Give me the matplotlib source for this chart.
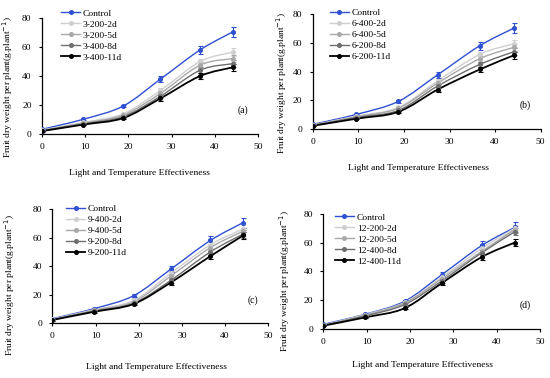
import numpy as np
import matplotlib
matplotlib.use('Agg')
import matplotlib.pyplot as plt
from matplotlib.path import Path
from matplotlib.patches import PathPatch
from matplotlib.lines import Line2D

plt.rcParams['font.family'] = 'Liberation Serif'
plt.rcParams['font.size'] = 6.5

# light and temperature effectiveness at each sampling
lte = [0, 9.6, 18.8, 27.4, 36.6, 44.2]

control = [3.2, 10.2, 19.3, 37.8, 58.0, 70.5]
control_err = [0.5, 0.6, 1.0, 2.0, 3.0, 3.5]

# panel (a)
labels_a = ['3-200-2d', '3-200-5d', '3-400-8d', '3-400-11d']
series_a = [[2.8, 8.0, 14.0, 30.0, 50.0, 56.5],
            [2.5, 7.5, 13.0, 28.0, 47.5, 52.0],
            [2.3, 7.0, 12.0, 26.0, 44.0, 48.5],
            [2.0, 6.5, 11.0, 24.5, 40.0, 46.0]]

# panel (b)
labels_b = ['6-400-2d', '6-400-5d', '6-200-8d', '6-200-11d']
series_b = [[2.8, 9.0, 15.0, 33.5, 52.0, 59.5],
            [2.6, 8.5, 14.5, 32.0, 49.0, 57.0],
            [2.4, 8.0, 13.0, 30.0, 45.0, 54.0],
            [2.2, 7.2, 12.0, 27.5, 41.5, 51.5]]

# panel (c)
labels_c = ['9-400-2d', '9-400-5d', '9-200-8d', '9-200-11d']
series_c = [[2.8, 9.5, 16.0, 35.0, 55.0, 66.0],
            [2.6, 9.0, 15.0, 33.0, 53.0, 64.5],
            [2.5, 8.5, 14.0, 30.0, 50.0, 62.5],
            [2.3, 8.0, 13.5, 28.5, 47.0, 61.5]]

# panel (d)
labels_d = ['12-200-2d', '12-200-5d', '12-400-8d', '12-400-11d']
series_d = [[2.8, 10.0, 18.5, 36.0, 56.0, 70.0],
            [2.6, 9.5, 18.0, 35.0, 54.0, 69.0],
            [2.5, 9.0, 17.0, 33.5, 53.0, 67.5],
            [2.3, 8.0, 14.5, 32.0, 50.0, 60.0]]

treat_err = [0.4, 0.5, 0.8, 1.5, 2.0, 2.5]

blue = '#2f50d2'
greys = ['#cfcfcf', '#a8a8a8', '#6e6e6e', '#000000']

W, H = 550, 378


def smooth_path(x, y):
    # Catmull-Rom style bezier through the points (like Excel smoothed lines)
    x = np.asarray(x, float)
    y = np.asarray(y, float)
    n = len(x)
    verts = [(x[0], y[0])]
    codes = [Path.MOVETO]
    for i in range(n - 1):
        x0, y0 = (x[i - 1], y[i - 1]) if i > 0 else (x[i], y[i])
        x3, y3 = (x[i + 2], y[i + 2]) if i + 2 < n else (x[i + 1], y[i + 1])
        c1 = (x[i] + (x[i + 1] - x0) / 6, y[i] + (y[i + 1] - y0) / 6)
        c2 = (x[i + 1] - (x3 - x[i]) / 6, y[i + 1] - (y3 - y[i]) / 6)
        verts += [c1, c2, (x[i + 1], y[i + 1])]
        codes += [Path.CURVE4] * 3
    return Path(verts, codes)


def draw(ax, x, y, err, color, lw):
    ax.add_patch(PathPatch(smooth_path(x, y), fill=False, edgecolor=color, lw=lw, zorder=3))
    ax.errorbar(x, y, yerr=err, fmt='o', ms=2.6, color=color, ecolor=color,
                elinewidth=0.8, capsize=1.8, capthick=0.8, zorder=4)


fig = plt.figure(figsize=(W / 100, H / 100), dpi=100)

# axes box (left, right, y of 0, y of 80) in pixels, legend corner, xlabel centre, ylabel centre
panels = [
    ((42, 258, 134, 18), (57.5, 5.4), (140, 172.7), (8, 87.5), labels_a, series_a, '(a)'),
    ((312.7, 540.7, 129, 14.3), (326.2, 4.7), (418, 167.7), (282, 83), labels_b, series_b, '(b)'),
    ((52.3, 268.3, 323.3, 209), (62.5, 201.1), (157, 367), (10, 284.7), labels_c, series_c, '(c)'),
    ((323.3, 540, 329, 213.7), (331.2, 209.4), (422.5, 365), (285, 281), labels_d, series_d, '(d)'),
]

for (l, r, b, t), leg, xl, yl, labels, series, tag in panels:
    ax = fig.add_axes([l / W, 1 - b / H, (r - l) / W, (b - t) / H])
    draw(ax, lte, control, control_err, blue, 1.0)
    for vals, c in zip(series, greys):
        draw(ax, lte, vals, treat_err, c, 1.0 if c != '#000000' else 1.3)
    ax.set_xlim(0, 50)
    ax.set_ylim(0, 80)
    ax.set_xticks([0, 10, 20, 30, 40, 50])
    ax.set_yticks([0, 20, 40, 60, 80])
    for s in ['top', 'right']:
        ax.spines[s].set_visible(False)
    for s in ['left', 'bottom']:
        ax.spines[s].set_linewidth(0.9)
    ax.tick_params(axis='x', direction='out', length=2.5, width=0.8, pad=4, labelsize=6.8)
    ax.tick_params(axis='y', direction='out', length=2.5, width=0.8, pad=5, labelsize=6.8)
    ax.set_xlabel('Light and Temperature Effectiveness', fontsize=6.8, va='center')
    ax.set_ylabel('Fruit dry weight per plant(g.plant$^{-1}$)', fontsize=6.8, va='center')
    ax.xaxis.set_label_coords(xl[0] / W, 1 - xl[1] / H, transform=fig.transFigure)
    ax.yaxis.set_label_coords(yl[0] / W, 1 - yl[1] / H, transform=fig.transFigure)
    ax.text(46.5, 16.5, tag, ha='center', va='center', fontsize=7)
    handles = [Line2D([], [], color=blue, marker='o', ms=2.6, lw=1.0)]
    handles += [Line2D([], [], color=c, marker='o', ms=2.6, lw=1.0 if c != '#000000' else 1.3) for c in greys]
    ax.legend(handles, ['Control'] + labels, loc='upper left',
              bbox_to_anchor=(leg[0] / W, 1 - leg[1] / H), bbox_transform=fig.transFigure,
              frameon=False, fontsize=6.8, handlelength=2.0, handletextpad=0.3,
              labelspacing=0.25, borderaxespad=0)

fig.savefig('out.png', dpi=100)
